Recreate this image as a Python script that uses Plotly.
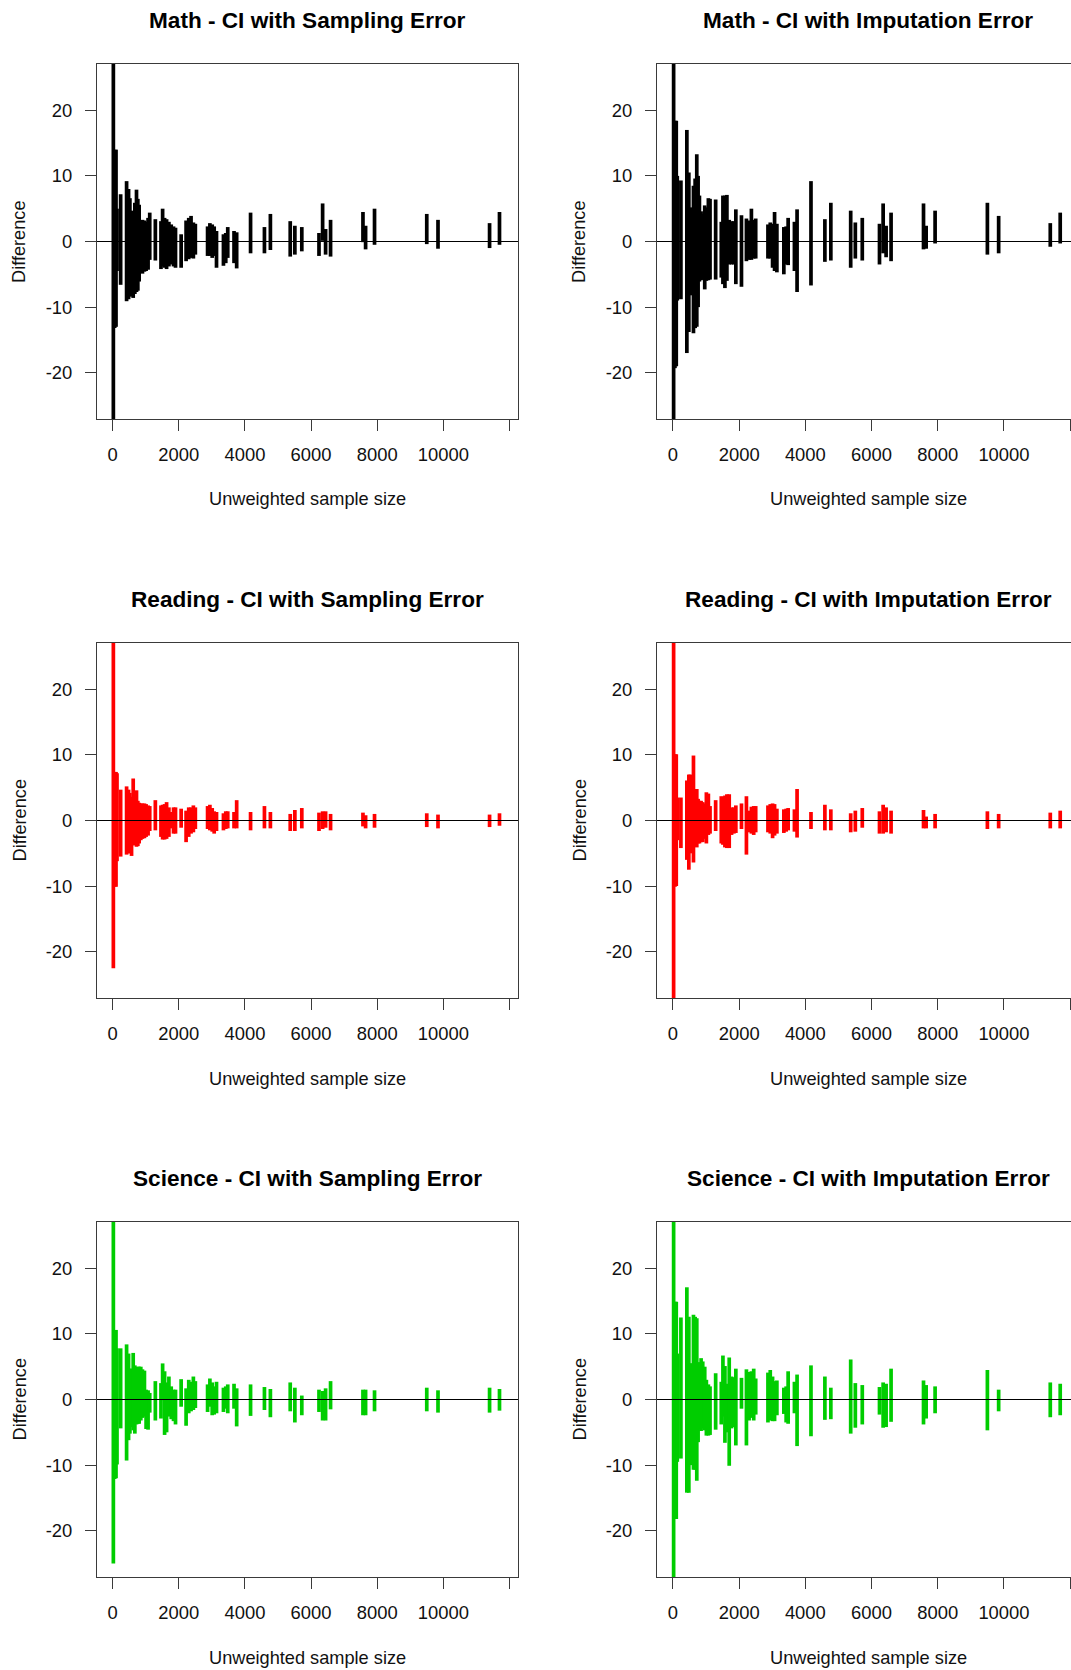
import plotly.graph_objects as go

# ---------------- data ----------------
sample_size = [20, 60, 100, 130, 240, 420, 480, 520, 570, 620, 670, 720, 760, 800, 850, 900,
               960, 1010, 1070, 1120, 1290, 1460, 1510, 1570, 1630, 1700, 1770, 1840, 1900,
               2070, 2220, 2300, 2370, 2440, 2500, 2870, 2940, 3010, 3070, 3140, 3350, 3420,
               3480, 3670, 3750, 4170, 4590, 4770, 5370, 5510, 5720, 6240, 6350, 6440, 6590,
               7570, 7650, 7920, 9500, 9840, 11400, 11700]

math_samp_hi = [35, 14.0, 14.0, 5.0, 7.2, 9.2, 8.0, 6.6, 4.7, 4.0, 5.9, 7.9, 6.5, 5.6, 3.2, 3.3,
                3.2, 3.0, 3.6, 4.4, 3.4, 3.1, 5.0, 3.6, 3.4, 3.0, 2.6, 2.3, 2.1, 1.1, 3.2, 3.6,
                3.9, 2.9, 2.7, 2.3, 2.8, 2.6, 2.3, 1.6, 1.1, 1.3, 2.2, 1.6, 1.4, 4.4, 2.2, 4.2,
                3.1, 2.4, 2.2, 1.3, 5.8, 1.9, 3.3, 4.5, 2.4, 5.0, 4.2, 3.3, 2.8, 4.5]
math_samp_lo = [-35, -13.2, -13.0, -4.5, -6.6, -9.1, -8.8, -6.0, -8.4, -8.6, -8.0, -7.7, -7.5,
                -6.1, -4.8, -4.9, -4.6, -4.5, -4.3, -2.8, -2.9, -4.2, -3.8, -4.0, -4.2, -3.8,
                -3.5, -3.8, -4.0, -4.0, -3.0, -2.7, -2.5, -2.6, -2.0, -2.2, -2.2, -2.5, -2.2,
                -4.0, -3.7, -3.3, -2.5, -3.3, -4.1, -1.8, -1.8, -1.3, -2.3, -2.0, -1.5, -2.2,
                0.1, -2.0, -2.3, -0.1, -1.2, -0.5, -0.4, -1.1, -1.0, -0.5]

math_imp_hi = [35, 18.4, 18.4, 10.0, 9.3, 17.0, 10.5, 5.0, 5.2, 8.5, 9.6, 13.3, 10.0, 7.0, 4.6,
               4.2, 5.5, 5.2, 6.6, 6.5, 6.4, 3.0, 7.0, 7.0, 7.1, 3.3, 3.1, 3.1, 4.9, 4.0, 3.5,
               3.2, 5.0, 3.3, 3.5, 2.6, 2.9, 2.7, 4.5, 2.7, 2.2, 2.3, 3.6, 3.0, 4.9, 9.2, 3.4,
               5.9, 4.7, 2.9, 3.6, 2.7, 5.8, 2.4, 4.4, 5.8, 2.4, 4.7, 5.9, 3.9, 2.8, 4.4]
math_imp_lo = [-35, -19.3, -19.0, -9.0, -8.8, -17.0, -13.8, -8.2, -8.0, -14.0, -13.2, -13.0,
               -10.0, -6.1, -5.9, -5.8, -7.3, -6.0, -5.9, -5.8, -5.8, -5.5, -6.5, -7.1, -6.0,
               -3.5, -3.5, -3.5, -6.5, -6.9, -3.0, -2.8, -2.8, -2.6, -2.6, -2.6, -2.6, -4.0,
               -4.5, -4.7, -5.0, -3.5, -3.6, -4.5, -7.7, -6.7, -3.1, -2.9, -4.0, -2.6, -2.9,
               -3.5, -1.8, -2.4, -3.0, -1.2, -1.1, -0.3, -2.0, -1.8, -0.8, -0.3]

read_samp_hi = [35, 7.4, 7.4, 7.2, 4.7, 5.2, 4.7, 4.2, 3.6, 6.4, 3.6, 4.6, 3.0, 2.7, 2.6, 2.6,
                2.6, 2.5, 2.3, 2.2, 3.1, 2.3, 2.4, 2.5, 2.8, 2.0, 1.3, 2.0, 2.0, 1.8, 1.5, 2.0,
                2.0, 2.3, 2.0, 2.2, 2.4, 1.9, 1.4, 1.3, 1.1, 1.4, 1.4, 1.3, 3.1, 1.3, 2.2, 1.3,
                1.0, 1.6, 1.9, 1.2, 1.4, 1.4, 1.0, 1.2, 0.8, 1.0, 1.1, 0.9, 0.9, 1.1]
read_samp_lo = [-22.5, -10.1, -10.1, -6.2, -5.5, -5.2, -5.0, -5.0, -5.4, -3.8, -3.7, -4.0,
                -3.9, -3.5, -3.0, -2.8, -2.7, -2.5, -2.3, -1.6, -1.5, -2.5, -2.9, -2.9, -2.8,
                -2.5, -1.2, -2.0, -2.0, -1.1, -3.3, -2.5, -2.0, -1.8, -1.3, -1.3, -1.5, -1.7,
                -2.0, -1.6, -1.5, -1.3, -1.2, -1.2, -1.2, -1.5, -1.2, -1.2, -1.6, -1.6, -1.2,
                -1.6, -1.3, -1.1, -1.5, -0.9, -1.2, -1.1, -1.0, -1.2, -1.0, -0.8]

read_imp_hi = [35, 10.1, 10.1, 3.5, 3.5, 6.1, 7.0, 7.0, 3.3, 9.9, 3.6, 4.8, 3.3, 3.0, 3.0, 2.8,
               2.6, 4.3, 4.1, 2.2, 3.1, 3.7, 3.6, 3.8, 4.0, 4.0, 2.0, 2.0, 2.3, 2.6, 3.7, 1.5,
               2.1, 2.2, 2.2, 2.3, 2.5, 2.6, 2.5, 1.8, 1.7, 1.8, 1.9, 1.7, 4.8, 1.3, 2.4, 1.7,
               1.1, 1.5, 1.9, 1.4, 2.4, 2.0, 1.5, 1.6, 0.6, 1.0, 1.4, 1.0, 1.2, 1.5]
read_imp_lo = [-35, -10.1, -10.0, -3.0, -4.2, -6.0, -7.5, -5.0, -3.7, -6.4, -4.0, -4.1, -3.5,
               -3.5, -3.3, -3.3, -2.8, -3.5, -2.2, -2.0, -1.6, -3.5, -3.7, -4.1, -4.2, -4.2,
               -2.2, -2.0, -1.9, -1.3, -5.2, -1.8, -2.0, -2.2, -1.8, -1.8, -2.0, -2.7, -2.3,
               -2.0, -1.9, -1.7, -1.5, -1.7, -2.6, -1.3, -1.5, -1.5, -1.8, -1.7, -1.1, -2.0,
               -2.0, -1.8, -2.0, -1.2, -1.2, -1.2, -1.3, -1.2, -1.2, -1.2]

sci_samp_hi = [35, 10.6, 10.6, 7.8, 7.8, 8.4, 7.0, 4.7, 4.7, 7.1, 5.2, 4.7, 5.0, 5.0, 5.0, 4.6,
               4.4, 1.5, 1.4, 1.0, 2.8, 2.5, 5.5, 4.3, 2.6, 3.5, 2.0, 1.5, 1.5, 3.1, 1.7, 3.0,
               2.7, 3.5, 2.8, 2.3, 3.2, 2.6, 2.0, 2.7, 1.8, 2.0, 2.3, 2.4, 1.7, 2.3, 1.9, 1.6,
               2.6, 1.8, 0.6, 1.5, 1.3, 1.7, 2.8, 1.5, 1.5, 1.4, 1.8, 1.4, 1.8, 1.6]
sci_samp_lo = [-25.0, -12.1, -12.0, -9.9, -4.4, -9.3, -6.2, -5.2, -4.2, -4.7, -5.2, -3.8, -3.7,
               -3.7, -3.2, -2.8, -2.6, -4.5, -4.6, -2.0, -3.2, -2.9, -0.1, -5.4, -5.0, -2.6,
               -3.0, -3.3, -3.8, -1.1, -4.0, -2.1, -1.8, -1.6, -1.3, -1.9, -1.1, -2.4, -2.3,
               -2.1, -1.9, -1.4, -2.1, -1.4, -4.1, -2.5, -1.6, -2.7, -1.8, -3.5, -2.4, -1.9,
               -3.2, -3.2, -1.5, -2.4, -2.4, -1.8, -1.8, -2.0, -2.0, -1.7]

sci_imp_hi = [35, 14.9, 14.9, 7.0, 12.5, 17.1, 12.6, 5.5, 5.5, 12.9, 12.6, 12.4, 5.7, 5.0, 6.3,
              5.8, 5.0, 3.0, 2.3, 2.0, 4.0, 2.7, 6.7, 5.1, 2.4, 6.4, 3.5, 3.4, 4.7, 3.3, 4.6,
              4.2, 4.3, 4.7, 3.2, 4.1, 4.5, 3.5, 2.8, 2.9, 1.8, 2.0, 4.3, 2.7, 3.8, 5.2, 3.5,
              1.8, 6.1, 2.5, 2.2, 1.9, 2.6, 2.4, 4.7, 2.9, 2.2, 2.0, 4.5, 1.5, 2.6, 2.4]
sci_imp_lo = [-35, -18.2, -18.2, -9.5, -9.0, -14.2, -14.2, -8.0, -10.0, -10.7, -10.7, -12.4,
              -6.5, -4.5, -4.8, -4.4, -4.7, -5.5, -5.5, -5.4, -4.6, -3.8, -2.6, -6.6, -5.0,
              -10.1, -4.4, -4.2, -7.0, -1.4, -7.0, -3.2, -2.8, -3.2, -2.3, -3.5, -3.2, -3.3,
              -3.3, -2.4, -2.2, -3.5, -3.7, -2.1, -7.1, -5.6, -3.1, -3.0, -5.2, -4.3, -3.8,
              -2.3, -4.3, -4.2, -3.4, -3.8, -2.9, -2.1, -4.7, -1.8, -2.7, -2.4]

titles = ["Math - CI with Sampling Error", "Math - CI with Imputation Error",
          "Reading - CI with Sampling Error", "Reading - CI with Imputation Error",
          "Science - CI with Sampling Error", "Science - CI with Imputation Error"]
panel_lo = [math_samp_lo, math_imp_lo, read_samp_lo, read_imp_lo, sci_samp_lo, sci_imp_lo]
panel_hi = [math_samp_hi, math_imp_hi, read_samp_hi, read_imp_hi, sci_samp_hi, sci_imp_hi]
panel_colors = ["#000000", "#000000", "#FF0000", "#FF0000", "#00CD00", "#00CD00"]

x_tickvals = [0, 2000, 4000, 6000, 8000, 10000, 12000]
x_ticktext = ["0", "2000", "4000", "6000", "8000", "10000", ""]
y_tickvals = [-20, -10, 0, 10, 20]
y_ticktext = ["-20", "-10", "0", "10", "20"]
x_label = "Unweighted sample size"
y_label = "Difference"

# ---------------- layout geometry (pixels) ----------------
W, H = 1071, 1670
col_px = [(97, 518), (657, 1071)]
col_xrange = [(-475, 12260), (-482, 12026)]
col_center = [307.5, 868.0]
col_ylab = [19, 579]
row_px = [(64, 419), (643, 998), (1222, 1577)]
row_zero = [242, 820.5, 1399.5]

FONT = "Liberation Sans, Arial, sans-serif"
AXC = "#3a3a3a"

fig = go.Figure()
annotations = []
shapes = []


def px_x(p):
    return p / W


def px_y(p):
    return 1 - p / H


for i in range(6):
    r, c = divmod(i, 2)
    sfx = "" if i == 0 else str(i + 1)
    xs, ys = [], []
    for a, lo, hi in zip(sample_size, panel_lo[i], panel_hi[i]):
        xs += [a, a, None]
        ys += [lo, hi, None]
    fig.add_trace(go.Scatter(x=xs, y=ys, mode="lines", xaxis=f"x{sfx}", yaxis=f"y{sfx}",
                             line=dict(color=panel_colors[i], width=3.7),
                             hoverinfo="skip", showlegend=False))

    x0, x1 = col_px[c]
    y0, y1 = row_px[r]
    common = dict(showgrid=False, zeroline=False, showline=True, linecolor=AXC, linewidth=1,
                  ticks="outside", ticklen=11, tickwidth=1, tickcolor=AXC,
                  tickfont=dict(family=FONT, size=18.4, color="#111111"))
    fig.layout[f"xaxis{sfx}"] = dict(domain=[px_x(x0), px_x(x1)], range=list(col_xrange[c]),
                                     anchor=f"y{sfx}", tickmode="array", tickvals=x_tickvals,
                                     ticktext=x_ticktext, mirror=True, ticklabelstandoff=8,
                                     **common)
    fig.layout[f"yaxis{sfx}"] = dict(domain=[px_y(y1), px_y(y0)], range=[-27.05, 27.05],
                                     anchor=f"x{sfx}", tickmode="array", tickvals=y_tickvals,
                                     ticktext=y_ticktext, mirror=(c == 0), ticklabelstandoff=9,
                                     **common)
    shapes.append(dict(type="line", xref=f"x{sfx} domain", yref=f"y{sfx}", x0=0, x1=1,
                       y0=0, y1=0, line=dict(color="#000000", width=1), layer="above"))

    annotations.append(dict(text=f"<b>{titles[i]}</b>", x=px_x(col_center[c]),
                            y=px_y(y0 - 43.5), xref="paper", yref="paper", showarrow=False,
                            xanchor="center", yanchor="middle",
                            font=dict(family=FONT, size=22.6, color="#000000")))
    annotations.append(dict(text=x_label, x=px_x(col_center[c]), y=px_y(y1 + 80.5),
                            xref="paper", yref="paper", showarrow=False,
                            xanchor="center", yanchor="middle",
                            font=dict(family=FONT, size=18.2, color="#111111")))
    annotations.append(dict(text=y_label, x=px_x(col_ylab[c]), y=px_y(row_zero[r]),
                            xref="paper", yref="paper", showarrow=False, textangle=-90,
                            xanchor="center", yanchor="middle",
                            font=dict(family=FONT, size=18.2, color="#111111")))

fig.update_layout(width=W, height=H, margin=dict(l=0, r=0, t=0, b=0),
                  paper_bgcolor="white", plot_bgcolor="white",
                  annotations=annotations, shapes=shapes, showlegend=False)

fig.write_html("out.html", config={"displayModeBar": False},
               post_script="document.body.style.margin='0px';document.body.style.overflow='hidden';")
